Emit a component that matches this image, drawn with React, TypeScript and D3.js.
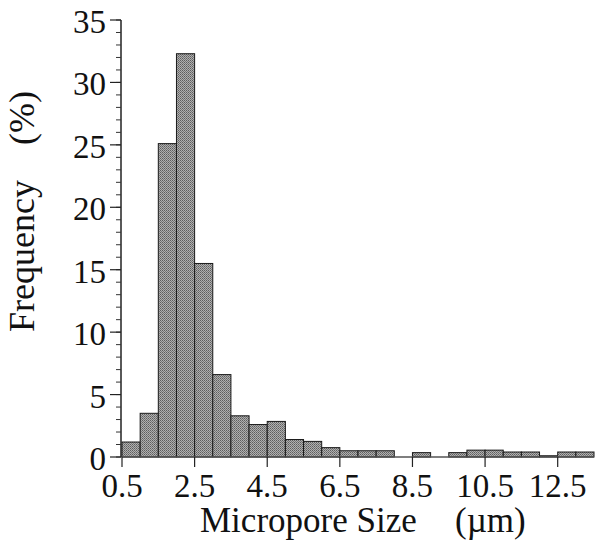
import React from "react";
import * as d3 from "d3";

const binStarts = [0.5, 1.0, 1.5, 2.0, 2.5, 3.0, 3.5, 4.0, 4.5, 5.0, 5.5, 6.0, 6.5, 7.0, 7.5, 8.0, 8.5, 9.0, 9.5, 10.0, 10.5, 11.0, 11.5, 12.0, 12.5, 13.0];
const frequency = [1.2, 3.5, 25.1, 32.3, 15.5, 6.6, 3.3, 2.6, 2.85, 1.4, 1.25, 0.75, 0.5, 0.5, 0.5, 0, 0.35, 0, 0.35, 0.55, 0.55, 0.4, 0.4, 0.1, 0.4, 0.4];
const binWidth = 0.5;
const xTicks = [0.5, 2.5, 4.5, 6.5, 8.5, 10.5, 12.5];
const yMajorTicks = [0, 5, 10, 15, 20, 25, 30, 35];
const yMinorTicks = d3.range(0, 36, 1);
const xLabelMain = "Micropore Size";
const xLabelUnit = "(\u00b5m)";
const yLabelMain = "Frequency";
const yLabelUnit = "(%)";

export default function App() {
  const W = 599, H = 548;
  const x = d3.scaleLinear().domain([0.5, 13.5]).range([122, 594]);
  const y = d3.scaleLinear().domain([0, 35]).range([457, 20]);
  const font = "'Liberation Serif', 'Times New Roman', serif";
  return (
    <svg width={W} height={H} style={{ position: "absolute", left: 0, top: 0, background: "#fff" }}>
      <defs>
        <pattern id="stip" width="2" height="2" patternUnits="userSpaceOnUse">
          <rect width="2" height="2" fill="#b0b0b0" />
          <rect width="1" height="1" fill="#5e5e5e" />
          <rect x="1" y="1" width="1" height="1" fill="#777" />
        </pattern>
      </defs>
      {binStarts.map((b, i) =>
        frequency[i] > 0 ? (
          <rect
            key={i}
            x={x(b)}
            y={y(frequency[i])}
            width={x(b + binWidth) - x(b)}
            height={y(0) - y(frequency[i])}
            fill="url(#stip)"
            stroke="#1a1a1a"
            strokeWidth={1}
          />
        ) : null
      )}
      {/* x axis */}
      <line x1={x(0.5)} x2={x(13.5)} y1={y(0)} y2={y(0)} stroke="#555" strokeWidth={1.5} />
      {xTicks.map((t) => (
        <g key={t}>
          <line x1={x(t)} x2={x(t)} y1={y(0)} y2={y(0) + 10} stroke="#222" strokeWidth={1.2} />
          <text x={x(t)} y={y(0) + 40} textAnchor="middle" fontFamily={font} fontSize={33} fill="#111">
            {t}
          </text>
        </g>
      ))}
      {/* y axis */}
      <line x1={121} x2={121} y1={y(35)} y2={y(0)} stroke="#222" strokeWidth={1.5} />
      {yMinorTicks.map((t) => (
        <line key={"m" + t} x1={116} x2={121} y1={y(t)} y2={y(t)} stroke="#333" strokeWidth={1} />
      ))}
      {yMajorTicks.map((t) => (
        <g key={t}>
          <line x1={110} x2={121} y1={y(t)} y2={y(t)} stroke="#222" strokeWidth={1.2} />
          <text x={106} y={y(t) + 13} textAnchor="end" fontFamily={font} fontSize={33} fill="#111">
            {t}
          </text>
        </g>
      ))}
      <text x={200} y={532} textAnchor="start" fontFamily={font} fontSize={35} fill="#111">
        {xLabelMain}
      </text>
      <text x={455} y={532} textAnchor="start" fontFamily={font} fontSize={35} fill="#111">
        {xLabelUnit}
      </text>
      <text transform={`translate(34, 332) rotate(-90)`} textAnchor="start" fontFamily={font} fontSize={36} fill="#111">
        {yLabelMain}
      </text>
      <text transform={`translate(34, 145) rotate(-90)`} textAnchor="start" fontFamily={font} fontSize={36} fill="#111">
        {yLabelUnit}
      </text>
    </svg>
  );
}
